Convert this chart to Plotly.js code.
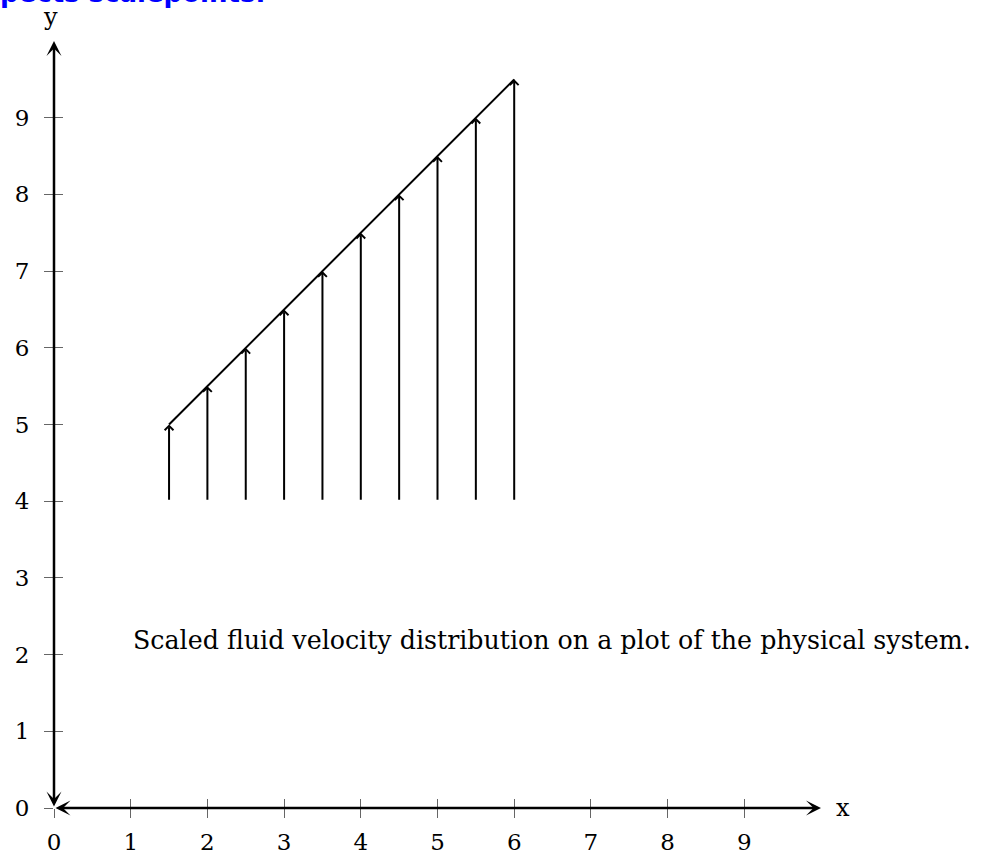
<!DOCTYPE html>
<html>
<head>
<meta charset="utf-8">
<script src="https://cdn.plot.ly/plotly-3.0.1.min.js"></script>
<style>html,body{margin:0;padding:0;background:#fff;}#chart{width:1005px;height:857px;}</style>
</head>
<body>
<div id="chart"></div>
<script>
// Data
const xPositions = [1.5, 2, 2.5, 3, 3.5, 4, 4.5, 5, 5.5, 6];
const velocities = [5, 5.5, 6, 6.5, 7, 7.5, 8, 8.5, 9, 9.5];
const arrowBase = [4, 4, 4, 4, 4, 4, 4, 4, 4, 4];
const xTicks = [0, 1, 2, 3, 4, 5, 6, 7, 8, 9];
const yTicks = [0, 1, 2, 3, 4, 5, 6, 7, 8, 9];
const axisMax = 10;
const titleText = "pects scalepoints.";
const captionText = "Scaled fluid velocity distribution on a plot of the physical system.";

const serif = "DejaVu Serif, Liberation Serif, serif";

const traces = [
  {
    x: xPositions, y: velocities, type: 'scatter', mode: 'lines',
    line: {color: '#000', width: 2}, hoverinfo: 'skip', showlegend: false
  },
  // invisible trace for overlay axes
  {x: [0], y: [0], xaxis: 'x2', yaxis: 'y2', mode: 'markers', marker: {opacity: 0}, showlegend: false, hoverinfo: 'skip'}
];

const annotations = [];
// velocity arrows
xPositions.forEach((xv, i) => {
  annotations.push({
    x: xv, y: velocities[i], ax: xv, ay: arrowBase[i],
    xref: 'x', yref: 'y', axref: 'x', ayref: 'y',
    text: '', showarrow: true, arrowhead: 4, arrowsize: 0.85, arrowwidth: 2, arrowcolor: '#000', standoff: 0
  });
});
// axis lines with arrows at both ends
annotations.push({
  x: axisMax, y: 0, ax: 0, ay: 0, xref: 'x', yref: 'y', axref: 'x', ayref: 'y',
  text: '', showarrow: true, arrowhead: 3, arrowside: 'end+start', arrowsize: 1, arrowwidth: 2.5, arrowcolor: '#000', standoff: 0, startstandoff: 0
});
annotations.push({
  x: 0, y: axisMax, ax: 0, ay: 0, xref: 'x', yref: 'y', axref: 'x', ayref: 'y',
  text: '', showarrow: true, arrowhead: 3, arrowside: 'end+start', arrowsize: 1, arrowwidth: 2.5, arrowcolor: '#000', standoff: 0, startstandoff: 0
});
// axis labels
annotations.push({x: axisMax, y: 0, xref: 'x', yref: 'y', text: 'x', showarrow: false, xanchor: 'left', yanchor: 'middle', xshift: 13, font: {family: serif, size: 24, color: '#000'}});
annotations.push({x: 0, y: axisMax, xref: 'x', yref: 'y', text: 'y', showarrow: false, xanchor: 'center', yanchor: 'bottom', xshift: -4, yshift: 8, font: {family: serif, size: 24, color: '#000'}});
// caption
annotations.push({x: 1, y: 2, xref: 'x', yref: 'y', text: captionText, showarrow: false, xanchor: 'left', yanchor: 'middle', yshift: 14, font: {family: serif, size: 25.3, color: '#000'}});
// clipped title
annotations.push({x: 0, y: 1, xref: 'paper', yref: 'paper', text: '<b>' + titleText + '</b>', showarrow: false, xanchor: 'left', yanchor: 'bottom', xshift: -56, yshift: 31, font: {family: 'DejaVu Sans, sans-serif', size: 26, color: '#0000ff'}});

const axisCommon = {
  range: [0, axisMax], showgrid: false, zeroline: false, showline: false,
  ticks: 'outside', ticklen: 9, tickwidth: 1, tickcolor: '#666',
  tickmode: 'array', fixedrange: true,
  tickfont: {family: serif, size: 23, color: '#000'}
};

const layout = {
  width: 1005, height: 857,
  margin: {l: 54, r: 184, t: 41, b: 49, pad: 0},
  paper_bgcolor: '#fff', plot_bgcolor: '#fff',
  showlegend: false,
  xaxis: Object.assign({}, axisCommon, {tickvals: xTicks, ticktext: xTicks.map(String), ticklabelstandoff: 4}),
  yaxis: Object.assign({}, axisCommon, {tickvals: yTicks, ticktext: yTicks.map(String), ticklabelstandoff: 10}),
  xaxis2: Object.assign({}, axisCommon, {overlaying: 'x', anchor: 'y2', ticks: 'inside', showticklabels: false, tickvals: xTicks}),
  yaxis2: Object.assign({}, axisCommon, {overlaying: 'y', anchor: 'x2', ticks: 'inside', showticklabels: false, tickvals: yTicks}),
  annotations: annotations
};

Plotly.newPlot('chart', traces, layout, {staticPlot: true, displayModeBar: false});
</script>
</body>
</html>
